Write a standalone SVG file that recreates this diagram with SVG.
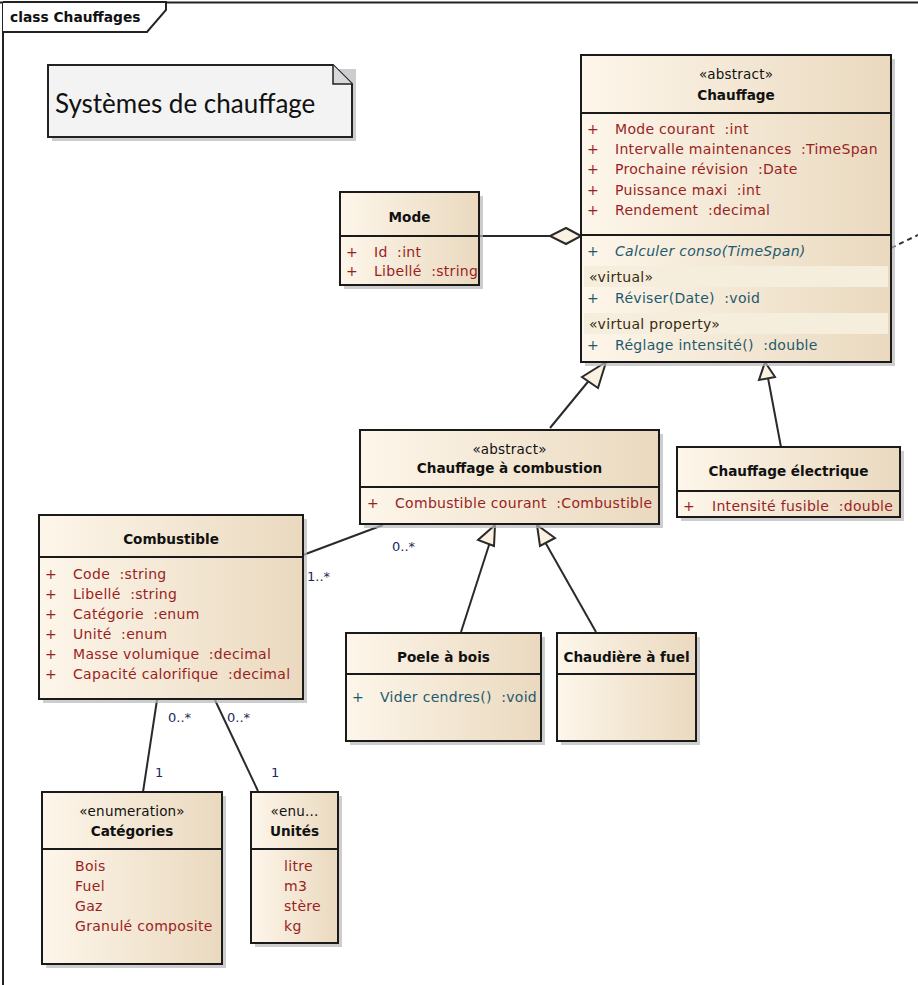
<svg xmlns="http://www.w3.org/2000/svg" width="918" height="985" viewBox="0 0 918 985">
<defs>
<linearGradient id="bg" x1="0" y1="0" x2="1" y2="0">
<stop offset="0" stop-color="#fdf6ea"/>
<stop offset="1" stop-color="#ead9bf"/>
</linearGradient>
<style>
.box{fill:url(#bg);stroke:#1a1a1a;stroke-width:2}
.sh{fill:#b8b8b8;opacity:0.7}
.sep{stroke:#1a1a1a;stroke-width:2}
.t{font-family:"DejaVu Sans",sans-serif;font-size:14px;letter-spacing:0.3px;white-space:pre}
.nm{font-family:"DejaVu Sans",sans-serif;font-size:13.6px;font-weight:bold;fill:#111;text-anchor:middle}
.st{font-family:"DejaVu Sans",sans-serif;font-size:13.5px;letter-spacing:0.2px;fill:#111;text-anchor:middle}
.at{fill:#9a1f1f}
.op{fill:#1e5a6e}
.ln{stroke:#2a2a2a;stroke-width:2;fill:none}
.tri{fill:#fbf1e1;stroke:#2a2a2a;stroke-width:2}
.lb{font-family:"DejaVu Sans",sans-serif;font-size:13px;fill:#1a2a5a}
.band{fill:#f6eedd}
</style>
</defs>
<rect width="918" height="985" fill="#ffffff"/>
<g id="frame">
<path d="M0,2.5 H918 M3,2 V985" stroke="#222" stroke-width="2" fill="none"/>
<path d="M3,2 H166 V10 L147,32 H3" stroke="#222" stroke-width="2" fill="#ffffff"/>
<text x="10" y="22" font-family="DejaVu Sans,sans-serif" font-size="13.8" font-weight="bold" fill="#111">class Chauffages</text>
</g>
<g id="note">
<rect x="52" y="69" width="304" height="72" class="sh"/>
<path d="M48,65 H333 L352,84 V137 H48 Z" fill="#f3f3f3" stroke="#222" stroke-width="2"/>
<path d="M333,65 V84 H352" fill="#d8d8dc" stroke="#222" stroke-width="1.5"/>
<text x="55" y="113" font-family="Lato,sans-serif" font-size="26" fill="#111">Systèmes de chauffage</text>
</g>
<g id="connectors">
<line x1="479" y1="236" x2="550" y2="236" class="ln"/>
<polygon points="581,236 566,228 550,236 566,244" class="tri"/>
<line x1="891" y1="248" x2="918" y2="235" stroke="#333" stroke-width="2" stroke-dasharray="5,4"/>
<line x1="550" y1="428" x2="596" y2="372" class="ln"/>
<polygon points="606,362 582,377 598,388" class="tri"/>
<line x1="781" y1="447" x2="768" y2="378" class="ln"/>
<polygon points="765,362 759,380 775,377" class="tri"/>
<line x1="461" y1="632" x2="490" y2="542" class="ln"/>
<polygon points="495,525 478,540 494,546" class="tri"/>
<line x1="596" y1="632" x2="545" y2="542" class="ln"/>
<polygon points="537,525 540,546 555,538" class="tri"/>
<line x1="303" y1="555" x2="383" y2="525" class="ln"/>
<line x1="157" y1="700" x2="143" y2="792" class="ln"/>
<line x1="215" y1="700" x2="258" y2="791" class="ln"/>
<text x="307" y="581" class="lb">1..*</text>
<text x="392" y="551" class="lb">0..*</text>
<text x="168" y="722" class="lb">0..*</text>
<text x="227" y="722" class="lb">0..*</text>
<text x="155" y="777" class="lb">1</text>
<text x="271" y="777" class="lb">1</text>
</g>
<g id="chauffage">
<rect x="585" y="59" width="310" height="307" class="sh"/>
<rect x="581" y="55" width="310" height="307" class="box"/>
<line x1="581" y1="113" x2="891" y2="113" class="sep"/>
<line x1="581" y1="235" x2="891" y2="235" class="sep"/>
<text x="736" y="79" class="st">«abstract»</text>
<text x="736" y="100" class="nm">Chauffage</text>
<g class="t at">
<text x="587" y="134">+</text><text x="615" y="134">Mode courant &#160;:int</text>
<text x="587" y="154">+</text><text x="615" y="154">Intervalle maintenances &#160;:TimeSpan</text>
<text x="587" y="174">+</text><text x="615" y="174">Prochaine révision &#160;:Date</text>
<text x="587" y="195">+</text><text x="615" y="195">Puissance maxi &#160;:int</text>
<text x="587" y="215">+</text><text x="615" y="215">Rendement &#160;:decimal</text>
</g>
<rect x="584" y="266" width="304" height="21" class="band"/>
<rect x="584" y="313" width="304" height="21" class="band"/>
<g class="t op">
<text x="587" y="256">+</text><text x="615" y="256" font-style="italic">Calculer conso(TimeSpan)</text>
<text x="587" y="303">+</text><text x="615" y="303">Réviser(Date) &#160;:void</text>
<text x="587" y="350">+</text><text x="615" y="350">Réglage intensité() &#160;:double</text>
</g>
<text x="589" y="282" class="t" fill="#3a2a10">«virtual»</text>
<text x="589" y="329" class="t" fill="#3a2a10">«virtual property»</text>
</g>
<g id="mode">
<rect x="344" y="196" width="139" height="93" class="sh"/>
<rect x="340" y="192" width="139" height="93" class="box"/>
<line x1="340" y1="236" x2="479" y2="236" class="sep"/>
<text x="409.5" y="222" class="nm">Mode</text>
<g class="t at">
<text x="346" y="257">+</text><text x="374" y="257">Id &#160;:int</text>
<text x="346" y="276">+</text><text x="374" y="276">Libellé &#160;:string</text>
</g>
</g>
<g id="combustion">
<rect x="364" y="434" width="299" height="94" class="sh"/>
<rect x="360" y="430" width="299" height="94" class="box"/>
<line x1="360" y1="487" x2="659" y2="487" class="sep"/>
<text x="509.5" y="454" class="st">«abstract»</text>
<text x="509.5" y="473" class="nm">Chauffage à combustion</text>
<g class="t at"><text x="367" y="508">+</text><text x="395" y="508">Combustible courant &#160;:Combustible</text></g>
</g>
<g id="electrique">
<rect x="681" y="451" width="223" height="70" class="sh"/>
<rect x="677" y="447" width="223" height="70" class="box"/>
<line x1="677" y1="491" x2="900" y2="491" class="sep"/>
<text x="788.5" y="476" class="nm">Chauffage électrique</text>
<g class="t at"><text x="683" y="511">+</text><text x="712" y="511">Intensité fusible &#160;:double</text></g>
</g>
<g id="combustible">
<rect x="43" y="519" width="264" height="184" class="sh"/>
<rect x="39" y="515" width="264" height="184" class="box"/>
<line x1="39" y1="557" x2="303" y2="557" class="sep"/>
<text x="171" y="544" class="nm">Combustible</text>
<g class="t at">
<text x="45" y="579">+</text><text x="73" y="579">Code &#160;:string</text>
<text x="45" y="599">+</text><text x="73" y="599">Libellé &#160;:string</text>
<text x="45" y="619">+</text><text x="73" y="619">Catégorie &#160;:enum</text>
<text x="45" y="639">+</text><text x="73" y="639">Unité &#160;:enum</text>
<text x="45" y="659">+</text><text x="73" y="659">Masse volumique &#160;:decimal</text>
<text x="45" y="679">+</text><text x="73" y="679">Capacité calorifique &#160;:decimal</text>
</g>
</g>
<g id="poele">
<rect x="350" y="637" width="195" height="108" class="sh"/>
<rect x="346" y="633" width="195" height="108" class="box"/>
<line x1="346" y1="674" x2="541" y2="674" class="sep"/>
<text x="443.5" y="662" class="nm">Poele à bois</text>
<g class="t op"><text x="352" y="702">+</text><text x="380" y="702">Vider cendres() &#160;:void</text></g>
</g>
<g id="chaudiere">
<rect x="561" y="637" width="139" height="108" class="sh"/>
<rect x="557" y="633" width="139" height="108" class="box"/>
<line x1="557" y1="674" x2="696" y2="674" class="sep"/>
<text x="626.5" y="662" class="nm">Chaudière à fuel</text>
</g>
<g id="categories">
<rect x="46" y="796" width="180" height="172" class="sh"/>
<rect x="42" y="792" width="180" height="172" class="box"/>
<line x1="42" y1="849" x2="222" y2="849" class="sep"/>
<text x="132" y="816" class="st">«enumeration»</text>
<text x="132" y="836" class="nm">Catégories</text>
<g class="t at">
<text x="75" y="871">Bois</text>
<text x="75" y="891">Fuel</text>
<text x="75" y="911">Gaz</text>
<text x="75" y="931">Granulé composite</text>
</g>
</g>
<g id="unites">
<rect x="255" y="796" width="87" height="151" class="sh"/>
<rect x="251" y="792" width="87" height="151" class="box"/>
<line x1="251" y1="849" x2="338" y2="849" class="sep"/>
<text x="294.5" y="816" class="st">«enu...</text>
<text x="294.5" y="836" class="nm">Unités</text>
<g class="t at">
<text x="284" y="871">litre</text>
<text x="284" y="891">m3</text>
<text x="284" y="911">stère</text>
<text x="284" y="931">kg</text>
</g>
</g>
</svg>
